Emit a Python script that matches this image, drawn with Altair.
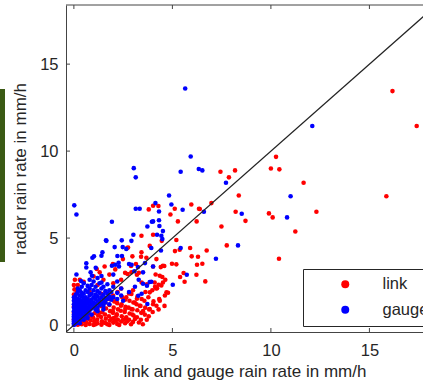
import altair as alt
import pandas as pd

# ---- data ----
link_x = [16.17, 17.4, 10.26, 10.0, 10.43, 7.44, 8.18, 7.87, 11.66, 15.86, 8.37, 6.98, 6.39, 8.21, 8.71, 9.9, 10.09, 12.31, 7.49, 11.24, 7.76, 6.74, 10.41,
          4.02, 5.96, 5.12, 6.35, 4.9, 5.28, 6.23, 4.02, 4.46, 5.2, 5.13, 5.37, 5.9, 5.98, 6.3, 6.52, 6.25, 4.98, 5.2, 4.41, 4.52, 4.59, 4.15, 4.49, 4.64, 5.57, 6.22, 5.39, 5.62, 6.67, 4.12, 4.3, 4.44, 4.22, 4.78,
          3.8, 4.29, 3.43, 2.7, 2.97, 3.41, 3.68, 3.15, 4.02, 1.16, 0.5, 2.73, 2.92, 3.2, 3.44, 3.71, 3.85, 4.17, 4.04, 3.2, 3.51, 2.66, 2.97, 2.61, 2.92, 2.39, 1.98, 2.16,
          1.31, 1.56, 1.98, 2.49, 2.75, 3.43, 3.85, 4.19, 4.36, 4.1, 4.52, 4.7, 2.92, 2.66, 3.09, 3.34, 3.85, 4.19, 4.36,
          0.0, 0.0, 0.0, 0.02, 0.0, 0.03, 0.0, 0.05, 0.15, 0.12, 0.2,
          0.2, 0.25, 0.4, 0.45, 0.6, 0.62, 0.65, 0.8, 0.83, 0.78, 1.0, 1.03, 0.98, 1.05, 1.2, 1.18, 1.23, 1.2, 1.4, 1.42, 1.38, 1.44, 1.4,
          1.6, 1.62, 1.58, 1.63, 1.6, 1.8, 1.82, 1.78, 1.84, 1.8, 1.83, 2.0, 2.03, 1.98, 2.02, 2.05, 1.99, 2.2, 2.23, 2.18, 2.24, 2.2, 2.22,
          2.4, 2.43, 2.38, 2.42, 2.45, 2.4, 2.6, 2.63, 2.58, 2.62, 2.6, 2.8, 2.83, 2.78, 2.82, 2.8, 3.0, 3.03, 2.98, 3.02, 3.0,
          3.2, 3.22, 3.18, 3.23, 3.4, 3.42, 3.38, 3.44, 3.6, 3.62, 3.58, 3.63, 3.8, 3.82, 3.78, 4.0, 4.02, 3.98, 4.3, 4.33, 4.6, 4.62,
          0.5, 0.8, 1.2, 1.5, 1.8, 2.1, 2.4, 2.6, 1.0, 0.3, 2.9, 3.3, 0.7, 1.4, 2.0,
          0.35, 0.55, 0.9, 1.1, 1.3, 1.5, 1.7, 1.9, 2.1, 2.3, 2.5, 2.7, 2.9, 3.1, 3.3, 3.5, 3.7]
link_y = [13.45, 11.44, 9.67, 9.0, 8.95, 8.81, 8.89, 8.49, 8.18, 7.4, 7.45, 7.01, 6.67, 6.51, 5.99, 6.42, 6.19, 6.51, 5.67, 5.38, 4.58, 4.29, 3.81,
          6.86, 6.93, 6.69, 6.69, 6.36, 5.96, 5.96, 5.19, 4.84, 4.89, 4.25, 4.33, 4.43, 3.95, 3.93, 3.52, 3.47, 3.52, 3.49, 3.33, 3.41, 3.39, 2.91, 2.76, 2.6, 2.99, 2.89, 2.76, 2.49, 2.51, 2.2, 2.32, 2.28, 2.11, 1.86,
          6.65, 6.84, 5.13, 4.43, 3.95, 3.93, 3.87, 3.51, 3.37, 3.22, 2.49, 2.93, 3.03, 2.89, 2.45, 2.34, 1.88, 2.11, 1.36, 1.51, 0.8, 0.44, 0.61, 0.92, 0.92, 1.11, 0.79, 0.53,
          3.03, 3.37, 3.51, 3.79, 4.46, 4.18, 4.55, 3.79, 2.83, 2.45, 2.45, 1.88, 1.78, 1.59, 1.3, 1.11, 0.92, 1.11, 1.4,
          0.3, 0.7, 1.05, 1.4, 1.75, 2.05, 2.3, 2.6, 1.9, 1.2, 2.3,
          0.02, 0.12, 0.05, 0.22, 0.0, 0.16, 0.38, 0.06, 0.27, 0.52, 0.0, 0.21, 0.42, 0.68, 0.1, 0.31, 0.55, 0.88, 0.02, 0.22, 0.46, 0.74, 1.08,
          0.12, 0.36, 0.6, 0.95, 1.3, 0.0, 0.25, 0.51, 0.8, 1.15, 1.48, 0.14, 0.4, 0.7, 1.0, 1.36, 1.7, 0.06, 0.3, 0.62, 0.9, 1.26, 1.9,
          0.2, 0.5, 0.82, 1.2, 1.6, 2.1, 0.1, 0.38, 0.75, 1.05, 1.45, 0.3, 0.66, 1.0, 1.4, 1.82, 0.18, 0.55, 0.9, 1.3, 2.0,
          0.45, 0.85, 1.2, 1.65, 0.3, 0.7, 1.1, 1.5, 0.6, 1.0, 1.4, 1.9, 0.5, 0.9, 1.6, 0.75, 1.2, 2.0, 0.9, 1.5, 1.1, 1.7,
          1.2, 1.9, 2.3, 2.6, 2.9, 3.2, 2.6, 3.0, 2.8, 2.6, 3.4, 3.0, 1.5, 1.8, 2.4,
          0.08, 0.3, 0.55, 0.05, 0.7, 0.15, 0.05, 0.35, 0.25, 0.0, 0.3, 0.2, 0.05, 0.35, 0.15, 0.05, 0.3]

gauge_x = [12.1, 5.65, 6.34, 6.52, 7.72, 11.0, 6.6, 8.52, 10.82, 8.33, 7.21,
           5.93, 5.42, 4.83, 4.14, 4.95, 5.52, 4.32, 4.02, 4.32, 4.52, 4.22, 4.44, 4.49, 3.93, 4.42, 5.42, 4.02, 5.73, 3.93, 5.02,
           0.02, 0.13, 3.04, 3.14, 3.14, 3.34, 1.93, 3.73, 3.96, 4.34, 3.02, 1.63, 2.43, 2.48, 1.4, 0.94, 2.21, 2.44, 2.8, 2.93, 2.1, 2.29, 1.93, 3.61,
           0.63, 1.11, 0.13, 0.92, 1.4, 0.36, 3.07, 3.29, 3.51, 3.85, 3.44, 3.73,
           0.85, 0.63, 1.02, 1.45, 1.65, 2.07, 2.66, 2.92, 2.27, 3.25, 3.51, 3.71, 3.27,
           0.0, 0.0, 0.0, 0.0, 0.0, 0.0, 0.0, 0.0, 0.0, 0.0, 0.0, 0.0,
           0.1, 0.1, 0.1, 0.1, 0.1, 0.1, 0.1, 0.1, 0.1,
           0.2, 0.2, 0.2, 0.2, 0.2, 0.2, 0.2, 0.2, 0.2,
           0.3, 0.3, 0.3, 0.3, 0.3, 0.3, 0.3, 0.3,
           0.4, 0.4, 0.4, 0.4, 0.4, 0.4, 0.4, 0.4,
           0.5, 0.5, 0.5, 0.5, 0.5, 0.5, 0.5,
           0.6, 0.6, 0.6, 0.6, 0.6, 0.6,
           0.7, 0.7, 0.7, 0.7, 0.7, 0.7,
           0.8, 0.8, 0.8, 0.8, 0.8, 0.8,
           0.9, 0.9, 0.9, 0.9, 0.9,
           1.0, 1.0, 1.0, 1.0, 1.0,
           1.1, 1.1, 1.1, 1.1, 1.1,
           1.2, 1.2, 1.2, 1.2, 1.2,
           1.3, 1.3, 1.3, 1.3,
           1.4, 1.4, 1.4, 1.4,
           1.5, 1.5, 1.5, 1.5,
           1.6, 1.6, 1.6,
           1.7, 1.7, 1.7,
           1.8, 1.8, 1.8,
           1.9, 1.9,
           2.0, 2.0, 2.0,
           2.2, 2.2, 2.2,
           2.4, 2.4,
           0.3, 0.5, 0.7, 0.9, 1.2, 1.5, 2.5, 2.8, 3.1,
           0.05, 0.15, 0.25, 0.35, 0.45, 0.55, 0.65, 0.75, 0.05, 0.15, 0.25, 0.35, 0.45, 0.55, 0.65]
gauge_y = [11.44, 13.6, 8.97, 8.89, 8.18, 7.4, 6.51, 6.4, 6.19, 4.58, 3.81,
           9.69, 8.81, 7.45, 7.01, 6.93, 6.63, 6.53, 5.96, 6.02, 5.4, 5.19, 5.13, 4.94, 4.43, 4.29, 4.43, 3.37, 2.89, 2.49, 2.32,
           6.88, 6.36, 9.02, 8.49, 6.69, 6.69, 5.94, 5.67, 5.94, 5.69, 5.19, 4.87, 4.87, 4.48, 3.98, 3.87, 3.97, 3.97, 3.51, 3.47, 3.47, 3.37, 3.41, 3.56,
           3.31, 3.29, 2.91, 2.83, 2.82, 2.53, 3.09, 2.6, 2.37, 2.47, 1.8, 1.21,
           3.03, 3.55, 3.95, 4.18, 4.84, 4.48, 4.37, 4.84, 3.58, 3.33, 3.03, 2.26, 1.68,
           0.0, 0.1, 0.2, 0.3, 0.4, 0.5, 0.6, 0.8, 1.0, 1.2, 1.4, 1.6,
           0.15, 0.35, 0.55, 0.75, 0.95, 1.15, 1.35, 1.55, 1.75,
           0.2, 0.45, 0.7, 0.9, 1.1, 1.3, 1.5, 1.9, 2.1,
           0.3, 0.6, 0.85, 1.05, 1.25, 1.45, 1.7, 2.0,
           0.45, 0.7, 0.95, 1.2, 1.4, 1.65, 1.85, 2.2,
           0.55, 0.8, 1.0, 1.3, 1.55, 1.8, 2.4,
           0.65, 0.9, 1.15, 1.4, 1.6, 2.0,
           0.75, 1.0, 1.25, 1.5, 1.9, 2.25,
           0.85, 1.1, 1.35, 1.7, 2.1, 2.6,
           0.95, 1.2, 1.45, 1.8, 2.3,
           1.05, 1.3, 1.6, 2.0, 2.5,
           0.9, 1.2, 1.5, 1.75, 2.2,
           1.0, 1.35, 1.65, 1.95, 2.7,
           1.15, 1.45, 1.85, 2.4,
           1.25, 1.6, 2.1, 2.45,
           1.1, 1.4, 1.75, 2.2,
           1.3, 1.55, 1.95,
           1.5, 1.8, 2.35,
           1.2, 1.65, 2.0,
           1.45, 1.9,
           1.6, 2.2, 2.9,
           1.5, 1.85, 2.5,
           1.7, 2.1,
           0.1, 0.3, 0.4, 0.6, 0.8, 0.9, 1.4, 1.9, 2.2,
           0.05, 0.12, 0.22, 0.32, 0.42, 0.5, 0.6, 0.68, 0.65, 0.78, 0.88, 1.0, 1.1, 1.22, 1.32]

series_names = ["link", "gauge"]
series_colors = ["#ff0000", "#0000ff"]
x_ticks = [0, 5, 10, 15]
y_ticks = [0, 5, 10, 15]
x_domain = [-0.4, 17.72]
y_domain = [-0.4, 18.4]
diag = [-0.4, 18.4]

W, H = 357, 327
FONT = "Liberation Sans"
TXT = "#262626"
AX = "#444444"

pts = pd.concat([
    pd.DataFrame({"x": link_x, "y": link_y, "s": "link"}),
    pd.DataFrame({"x": gauge_x, "y": gauge_y, "s": "gauge"}),
], ignore_index=True)

xs = alt.Scale(domain=x_domain, nice=False, zero=False)
ys = alt.Scale(domain=y_domain, nice=False, zero=False)

points = alt.Chart(pts).mark_circle(size=21, opacity=1).encode(
    x=alt.X("x:Q", scale=xs, title="link and gauge rain rate in mm/h",
            axis=alt.Axis(values=x_ticks, ticks=False, grid=False, labelPadding=10,
                          titlePadding=5, domainColor=AX)),
    y=alt.Y("y:Q", scale=ys, title="radar rain rate in mm/h",
            axis=alt.Axis(values=y_ticks, ticks=False, grid=False, labelPadding=8,
                          titlePadding=10, domainColor=AX)),
    color=alt.Color("s:N", scale=alt.Scale(domain=series_names, range=series_colors), title=None,
                    legend=alt.Legend(orient="none", legendX=237, legendY=264, padding=7,
                                      symbolType="circle", symbolSize=64, symbolOffset=27,
                                      labelOffset=29, rowPadding=8.5, labelFontSize=16.5,
                                      strokeColor="#262626", fillColor="white",
                                      symbolStrokeWidth=0, labelColor=TXT, labelFont=FONT)),
)

diag_line = alt.Chart(pd.DataFrame({"x": diag, "y": diag})).mark_line(
    color="#222222", strokeWidth=1.2, clip=True).encode(
    x=alt.X("x:Q", scale=xs), y=alt.Y("y:Q", scale=ys))

xt = pd.DataFrame({"v": x_ticks})
yt = pd.DataFrame({"v": y_ticks})
bottom_ticks = alt.Chart(xt).mark_rule(color=AX).encode(
    x=alt.X("v:Q", scale=xs), y=alt.value(H), y2=alt.value(H - 4))
top_ticks = alt.Chart(xt).mark_rule(color=AX).encode(
    x=alt.X("v:Q", scale=xs), y=alt.value(0), y2=alt.value(4))
left_ticks = alt.Chart(yt).mark_rule(color=AX).encode(
    y=alt.Y("v:Q", scale=ys), x=alt.value(0), x2=alt.value(4))
top_border = alt.Chart(pd.DataFrame({"a": [0]})).mark_rule(color=AX).encode(
    x=alt.value(0), x2=alt.value(W), y=alt.value(0))
side_bar = alt.Chart(pd.DataFrame({"a": [0]})).mark_rect(color="#3b5a14").encode(
    x=alt.value(-66), x2=alt.value(-61), y=alt.value(84), y2=alt.value(257))

chart = alt.layer(side_bar, points, diag_line, bottom_ticks, top_ticks, left_ticks, top_border).properties(
    width=W, height=H,
    autosize=alt.AutoSizeParams(type="none"),
    padding={"left": 66, "top": 5, "right": 0, "bottom": 53},
    background="white",
).configure_view(stroke=None).configure_axis(
    labelFont=FONT, titleFont=FONT, labelFontSize=16.5, titleFontSize=17,
    labelColor=TXT, titleColor=TXT, titleFontWeight="normal", domainWidth=1
).configure_legend(labelFont=FONT)

chart.save("out.html", embed_options={"renderer": "svg", "actions": False})
